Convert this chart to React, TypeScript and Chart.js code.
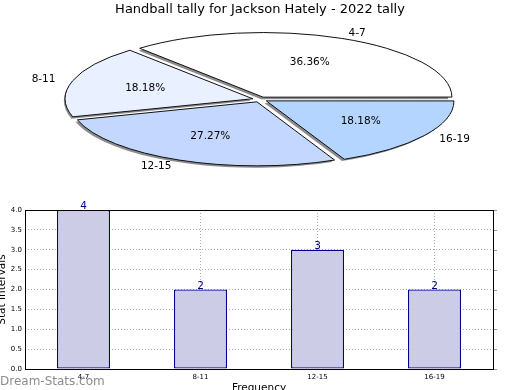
import React, { useEffect, useRef } from 'react';
import { Chart, registerables } from 'chart.js';

Chart.register(...registerables);

const chartTitle = 'Handball tally for Jackson Hately - 2022 tally';
const categories = ['4-7', '8-11', '12-15', '16-19'];
const counts = [4, 2, 3, 2];
const pieColors = ['#ffffff', '#e9f0ff', '#c4d8ff', '#b3d5ff'];
const yTicks = [0, 0.5, 1, 1.5, 2, 2.5, 3, 3.5, 4];
const yTitle = 'Stat Intervals';
const xTitle = 'Frequency';
const watermark = 'Dream-Stats.com';

const FONT = "'DejaVu Sans', sans-serif";
const PIE_RX = 187;
const PIE_RY = 64;
const SX = PIE_RX / PIE_RY;
const EXPLODE = 0.04;

const ellipsePlugin = {
  id: 'ellipsePie',
  beforeDatasetsDraw(chart: any) {
    const ctx = chart.ctx as CanvasRenderingContext2D;
    const meta = chart.getDatasetMeta(0);
    const base = ctx.getTransform();
    // shadows
    meta.data.forEach((arc: any) => {
      const { x, y, startAngle, endAngle, outerRadius } = arc.getProps(
        ['x', 'y', 'startAngle', 'endAngle', 'outerRadius'],
        true
      );
      const off = (arc.options.offset || 0) / 4;
      const mid = (startAngle + endAngle) / 2;
      ctx.save();
      ctx.translate(x - 2, y + 2);
      ctx.scale(SX, 1);
      ctx.translate(Math.cos(mid) * off, Math.sin(mid) * off);
      ctx.beginPath();
      ctx.moveTo(0, 0);
      ctx.arc(0, 0, outerRadius, startAngle, endAngle);
      ctx.closePath();
      ctx.fillStyle = 'rgba(0,0,0,0.45)';
      ctx.fill();
      ctx.restore();
    });
    const first = meta.data[0];
    const cx = first ? first.x : chart.width / 2;
    const cy = first ? first.y : chart.height / 2;
    ctx.save();
    ctx.translate(cx, cy);
    ctx.scale(SX, 1);
    ctx.translate(-cx, -cy);
    const orig = CanvasRenderingContext2D.prototype.stroke;
    (ctx as any).stroke = function (...args: any[]) {
      this.save();
      this.setTransform(base);
      orig.apply(this, args as any);
      this.restore();
    };
  },
  afterDatasetsDraw(chart: any) {
    const ctx = chart.ctx as CanvasRenderingContext2D;
    delete (ctx as any).stroke;
    ctx.restore();
    const meta = chart.getDatasetMeta(0);
    const data: number[] = chart.data.datasets[0].data;
    const labels: string[] = chart.data.labels;
    const total = data.reduce((a, b) => a + b, 0);
    ctx.save();
    ctx.fillStyle = '#000';
    ctx.font = `10.5px ${FONT}`;
    meta.data.forEach((arc: any, i: number) => {
      const { x, y, startAngle, endAngle } = arc;
      const mid = (startAngle + endAngle) / 2;
      const c = Math.cos(mid);
      const s = Math.sin(mid);
      const lx = x + (1.1 + EXPLODE) * PIE_RX * c;
      const ly = y + (1.1 + EXPLODE) * PIE_RY * s;
      ctx.textBaseline = 'middle';
      ctx.textAlign = c > 0 ? 'left' : 'right';
      ctx.fillText(labels[i], lx, ly);
      const px = x + (0.6 + EXPLODE) * PIE_RX * c;
      const py = y + (0.6 + EXPLODE) * PIE_RY * s;
      ctx.textAlign = 'center';
      ctx.fillText(((data[i] / total) * 100).toFixed(2) + '%', px, py);
    });
    ctx.restore();
  },
};

const framePlugin = {
  id: 'frame',
  afterDraw(chart: any) {
    const { ctx, chartArea } = chart;
    const { left, top, right, bottom } = chartArea;
    ctx.save();
    ctx.strokeStyle = '#000';
    ctx.lineWidth = 1;
    ctx.strokeRect(Math.round(left) + 0.5, Math.round(top) + 0.5, Math.round(right - left), Math.round(bottom - top));
    // small right-side ticks
    ctx.strokeStyle = '#999';
    const yScale = chart.scales.y;
    yScale.ticks.forEach((t: any) => {
      const py = Math.round(yScale.getPixelForValue(t.value)) + 0.5;
      ctx.beginPath();
      ctx.moveTo(Math.round(right) + 1, py);
      ctx.lineTo(Math.round(right) + 4, py);
      ctx.stroke();
    });
    ctx.restore();
    ctx.save();
    ctx.font = `12px ${FONT}`;
    ctx.fillStyle = 'rgba(110,110,110,0.8)';
    ctx.textAlign = 'left';
    ctx.textBaseline = 'alphabetic';
    ctx.fillText(watermark, 0, chart.height - 5);
    ctx.restore();
  },
};

const barLabelPlugin = {
  id: 'barLabels',
  afterDatasetsDraw(chart: any) {
    const { ctx } = chart;
    const meta = chart.getDatasetMeta(0);
    const data = chart.data.datasets[0].data;
    ctx.save();
    ctx.font = `10.5px ${FONT}`;
    ctx.fillStyle = '#000080';
    ctx.textAlign = 'center';
    ctx.textBaseline = 'alphabetic';
    meta.data.forEach((bar: any, i: number) => {
      ctx.fillText(String(data[i]), bar.x, bar.y - 1);
    });
    ctx.restore();
  },
};

export default function App() {
  const pieRef = useRef<HTMLCanvasElement>(null);
  const barRef = useRef<HTMLCanvasElement>(null);

  useEffect(() => {
    const pieChart = new Chart(pieRef.current as HTMLCanvasElement, {
      type: 'pie',
      data: {
        labels: [...categories].reverse(),
        datasets: [
          {
            data: [...counts].reverse(),
            backgroundColor: [...pieColors].reverse(),
            borderColor: '#111',
            borderWidth: 1,
            offset: 4 * EXPLODE * PIE_RY,
            radius: PIE_RY,
            rotation: 90,
          } as any,
        ],
      },
      options: {
        responsive: false,
        animation: false,
        events: [],
        layout: { padding: { top: 0, bottom: 13.6, left: 0, right: 0 } },
        plugins: {
          legend: { display: false },
          tooltip: { enabled: false },
          title: {
            display: true,
            text: chartTitle,
            color: '#000',
            font: { family: FONT, size: 13, weight: 'normal' },
            padding: { top: 2, bottom: 0 },
          },
        },
      } as any,
      plugins: [ellipsePlugin],
    });

    const barChart = new Chart(barRef.current as HTMLCanvasElement, {
      type: 'bar',
      data: {
        labels: categories,
        datasets: [
          {
            data: counts,
            backgroundColor: '#ccccе6'.replace('е', 'e'),
            borderColor: '#00008b',
            borderWidth: 1.3,
            borderSkipped: false,
            barPercentage: 0.453,
            categoryPercentage: 1,
          } as any,
        ],
      },
      options: {
        responsive: false,
        animation: false,
        events: [],
        layout: { padding: { top: 15, right: 27, left: 0, bottom: 0 } },
        plugins: {
          legend: { display: false },
          tooltip: { enabled: false },
        },
        scales: {
          x: {
            offset: true,
            z: 1,
            grid: { offset: false, drawTicks: false, color: '#aaaaaa', lineWidth: 1 },
            border: { display: false, dash: [1, 2] },
            ticks: { color: '#000', font: { family: FONT, size: 7 }, padding: 4, maxRotation: 0 },
            title: {
              display: true,
              text: xTitle,
              color: '#000',
              font: { family: FONT, size: 10.5 },
              padding: { top: 0, bottom: -5 },
            },
            afterFit: (s: any) => {
              s.height = 21;
            },
          },
          y: {
            min: yTicks[0],
            max: yTicks[yTicks.length - 1],
            z: 1,
            grid: { drawTicks: false, color: '#aaaaaa', lineWidth: 1 },
            border: { display: false, dash: [1, 2] },
            ticks: {
              stepSize: yTicks[1] - yTicks[0],
              color: '#000',
              font: { family: FONT, size: 7 },
              padding: 3,
              callback: (v: any) => Number(v).toFixed(1),
            },
            title: {
              display: true,
              text: yTitle,
              color: '#000',
              font: { family: FONT, size: 10.5 },
              padding: { top: -4, bottom: 0 },
            },
            afterFit: (s: any) => {
              s.width = 25;
            },
          },
        },
      } as any,
      plugins: [barLabelPlugin, framePlugin],
    });

    return () => {
      pieChart.destroy();
      barChart.destroy();
    };
  }, []);

  return (
    <div style={{ position: 'absolute', left: 0, top: 0, width: 520, height: 390, background: '#fff', overflow: 'hidden' }}>
      <canvas ref={pieRef} width={520} height={195} style={{ position: 'absolute', left: 0, top: 0 }} />
      <canvas ref={barRef} width={520} height={195} style={{ position: 'absolute', left: 0, top: 195 }} />
    </div>
  );
}
